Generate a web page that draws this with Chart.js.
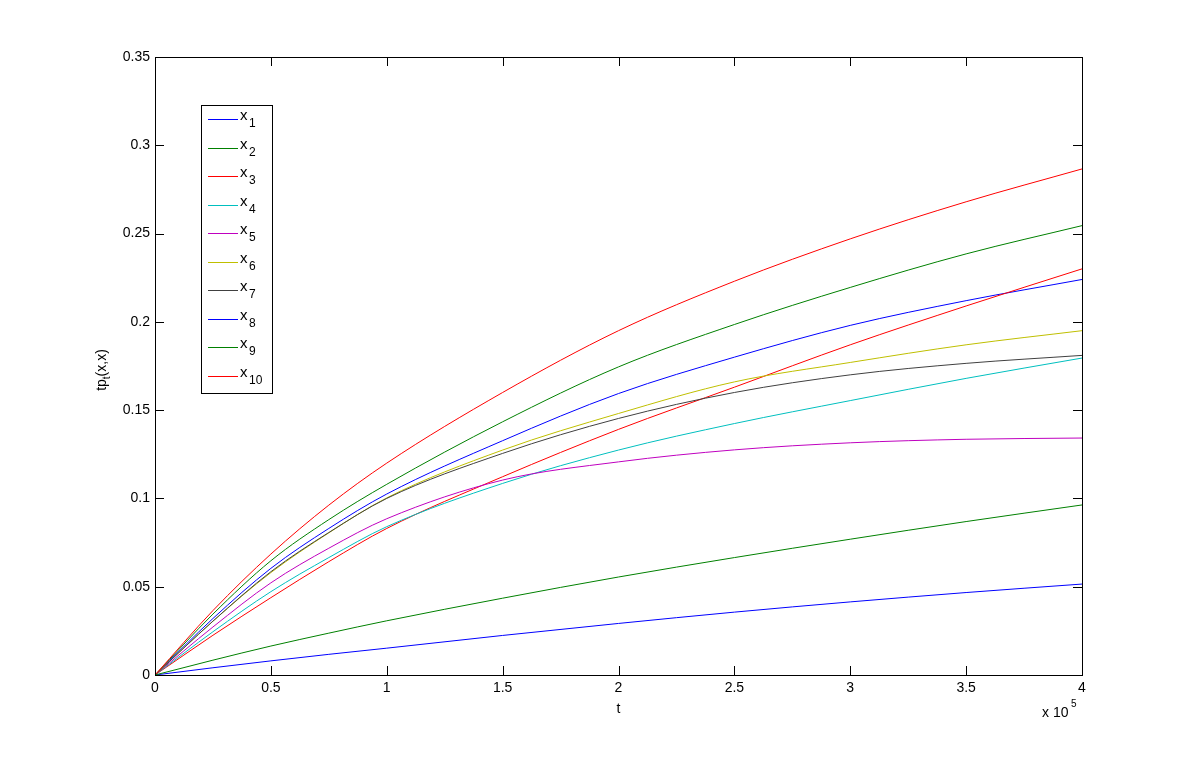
<!DOCTYPE html>
<html>
<head>
<meta charset="utf-8">
<script src="https://cdn.jsdelivr.net/npm/chart.js@4.4.0/dist/chart.umd.min.js"></script>
<style>
  html, body { margin: 0; padding: 0; background: #fff; }
  #wrap { width: 1196px; height: 758px; }
</style>
</head>
<body>
<div id="wrap"><canvas id="tpChart" width="1196" height="758"></canvas></div>
<script>
// time samples (units of 1e5)
const tVals = [0, 0.25, 0.5, 0.75, 1, 1.5, 2, 2.5, 3, 3.5, 4];

// tp_t(x,x) for each state
const x1 = [0, 0.0320, 0.0604, 0.0830, 0.1025, 0.1327, 0.1594, 0.180, 0.198, 0.212, 0.224];
const x2 = [0, 0.0345, 0.0647, 0.0880, 0.1080, 0.1434, 0.1745, 0.1985, 0.2195, 0.2385, 0.2545];
const x3 = [0, 0.0225, 0.0438, 0.0642, 0.0830, 0.1123, 0.1391, 0.163, 0.187, 0.209, 0.230];
const x4 = [0, 0.0245, 0.0472, 0.0665, 0.0840, 0.1085, 0.1274, 0.1424, 0.1554, 0.168, 0.1795];
const x5 = [0, 0.0272, 0.0522, 0.0718, 0.0885, 0.1104, 0.1207, 0.1275, 0.1315, 0.1335, 0.1342];
const x6 = [0, 0.0305, 0.0580, 0.0805, 0.1003, 0.1274, 0.1481, 0.166, 0.177, 0.187, 0.195];
const x7 = [0, 0.0305, 0.0585, 0.0807, 0.1000, 0.1255, 0.1453, 0.160, 0.170, 0.1765, 0.181];
const x8 = [0, 0.0041, 0.0080, 0.0117, 0.0152, 0.0224, 0.0292, 0.0356, 0.0414, 0.0467, 0.0515];
const x9 = [0, 0.0084, 0.0164, 0.0237, 0.0307, 0.0435, 0.0555, 0.0665, 0.0769, 0.0869, 0.0963];
const x10 = [0, 0.0365, 0.0685, 0.0962, 0.1200, 0.1600, 0.1950, 0.223, 0.247, 0.268, 0.2866];

const seriesNames = ['1', '2', '3', '4', '5', '6', '7', '8', '9', '10'];
const seriesData = [x1, x2, x3, x4, x5, x6, x7, x8, x9, x10];
const lineColors = ['#0000ff', '#008000', '#ff0000', '#00bfbf', '#bf00bf',
                    '#bfbf00', '#404040', '#0000ff', '#008000', '#ff0000'];

const xTicks = [0, 0.5, 1, 1.5, 2, 2.5, 3, 3.5, 4];
const yTicks = [0, 0.05, 0.1, 0.15, 0.2, 0.25, 0.3, 0.35];

const FONT = '"Liberation Sans", Arial, Helvetica, sans-serif';

const datasets = seriesData.map((vals, i) => ({
    label: seriesNames[i],
    data: vals.map((v, k) => ({ x: tVals[k], y: v })),
    borderColor: lineColors[i],
    borderWidth: 1,
    pointRadius: 0,
    fill: false,
    cubicInterpolationMode: 'monotone',
    order: seriesData.length - i
}));

// box around plot + inward ticks on all four sides
const boxTicks = {
    id: 'boxTicks',
    afterDatasetsDraw(chart) {
        const { ctx, chartArea: a, scales } = chart;
        const len = 9;
        ctx.save();
        ctx.strokeStyle = '#000';
        ctx.lineWidth = 1;
        ctx.strokeRect(Math.round(a.left) + 0.5, Math.round(a.top) + 0.5,
                       Math.round(a.right - a.left), Math.round(a.bottom - a.top));
        ctx.beginPath();
        xTicks.forEach(v => {
            const px = Math.round(scales.x.getPixelForValue(v)) + 0.5;
            ctx.moveTo(px, a.bottom); ctx.lineTo(px, a.bottom - len);
            ctx.moveTo(px, a.top); ctx.lineTo(px, a.top + len);
        });
        yTicks.forEach(v => {
            const py = Math.round(scales.y.getPixelForValue(v)) + 0.5;
            ctx.moveTo(a.left, py); ctx.lineTo(a.left + len, py);
            ctx.moveTo(a.right, py); ctx.lineTo(a.right - len, py);
        });
        ctx.stroke();
        ctx.restore();
    }
};

// labels with subscripts / exponent, and the legend box
const extras = {
    id: 'extras',
    afterDraw(chart) {
        const { ctx, chartArea: a } = chart;
        ctx.save();
        ctx.fillStyle = '#000';
        ctx.textBaseline = 'alphabetic';

        // x label
        ctx.font = '14px ' + FONT;
        ctx.textAlign = 'center';
        ctx.fillText('t', (a.left + a.right) / 2, 713);

        // x 10^5
        ctx.textAlign = 'left';
        ctx.font = '14px ' + FONT;
        ctx.fillText('x 10', 1042, 717);
        ctx.font = '10px ' + FONT;
        ctx.fillText('5', 1071, 707);

        // y label tp_t(x,x)
        ctx.translate(106, (a.top + a.bottom) / 2 + 4);
        ctx.rotate(-Math.PI / 2);
        ctx.font = '14px ' + FONT;
        const w1 = ctx.measureText('tp').width;
        ctx.font = '10px ' + FONT;
        const w2 = ctx.measureText('t').width;
        ctx.font = '14px ' + FONT;
        const w3 = ctx.measureText('(x,x)').width;
        let sx = -(w1 + w2 + w3) / 2;
        ctx.fillText('tp', sx, 0);
        ctx.font = '10px ' + FONT;
        ctx.fillText('t', sx + w1, 4);
        ctx.font = '14px ' + FONT;
        ctx.fillText('(x,x)', sx + w1 + w2, 0);
        ctx.setTransform(1, 0, 0, 1, 0, 0);

        // legend
        const lx = 201, ly = 105, lw = 71, lh = 288, step = 28.5;
        ctx.fillStyle = '#fff';
        ctx.fillRect(lx, ly, lw, lh);
        ctx.strokeStyle = '#000';
        ctx.lineWidth = 1;
        ctx.strokeRect(lx + 0.5, ly + 0.5, lw, lh);
        chart.data.datasets.forEach((ds, i) => {
            const y = Math.round(ly + 14 + i * step) + 0.5;
            ctx.strokeStyle = ds.borderColor;
            ctx.beginPath();
            ctx.moveTo(208, y); ctx.lineTo(238, y);
            ctx.stroke();
            ctx.fillStyle = '#000';
            ctx.font = '15px ' + FONT;
            ctx.fillText('x', 240, y);
            ctx.font = '12px ' + FONT;
            ctx.fillText(ds.label, 249, y + 7);
        });
        ctx.restore();
    }
};

const ctx = document.getElementById('tpChart').getContext('2d');
const tpChart = new Chart(ctx, {
    type: 'line',
    data: { datasets: datasets },
    plugins: [boxTicks, extras],
    options: {
        responsive: false,
        animation: false,
        layout: { padding: { left: 0, top: 57, right: 114, bottom: 0 } },
        plugins: {
            legend: { display: false },
            tooltip: { enabled: false }
        },
        scales: {
            x: {
                type: 'linear',
                min: 0, max: 4,
                afterFit: s => { s.height = 83; },
                afterBuildTicks: s => { s.ticks = xTicks.map(v => ({ value: v })); },
                grid: { display: false, tickLength: 0 },
                border: { display: true, color: '#000' },
                ticks: {
                    color: '#000', padding: 5, maxRotation: 0,
                    font: { family: FONT, size: 14 },
                    callback: v => String(+v.toFixed(1))
                }
            },
            y: {
                type: 'linear',
                min: 0, max: 0.35,
                afterFit: s => { s.width = 155; },
                afterBuildTicks: s => { s.ticks = yTicks.map(v => ({ value: v })); },
                grid: { display: false, tickLength: 0 },
                border: { display: true, color: '#000' },
                ticks: {
                    color: '#000', padding: 5,
                    font: { family: FONT, size: 14 },
                    callback: v => String(+v.toFixed(2))
                }
            }
        }
    }
});
</script>
</body>
</html>
